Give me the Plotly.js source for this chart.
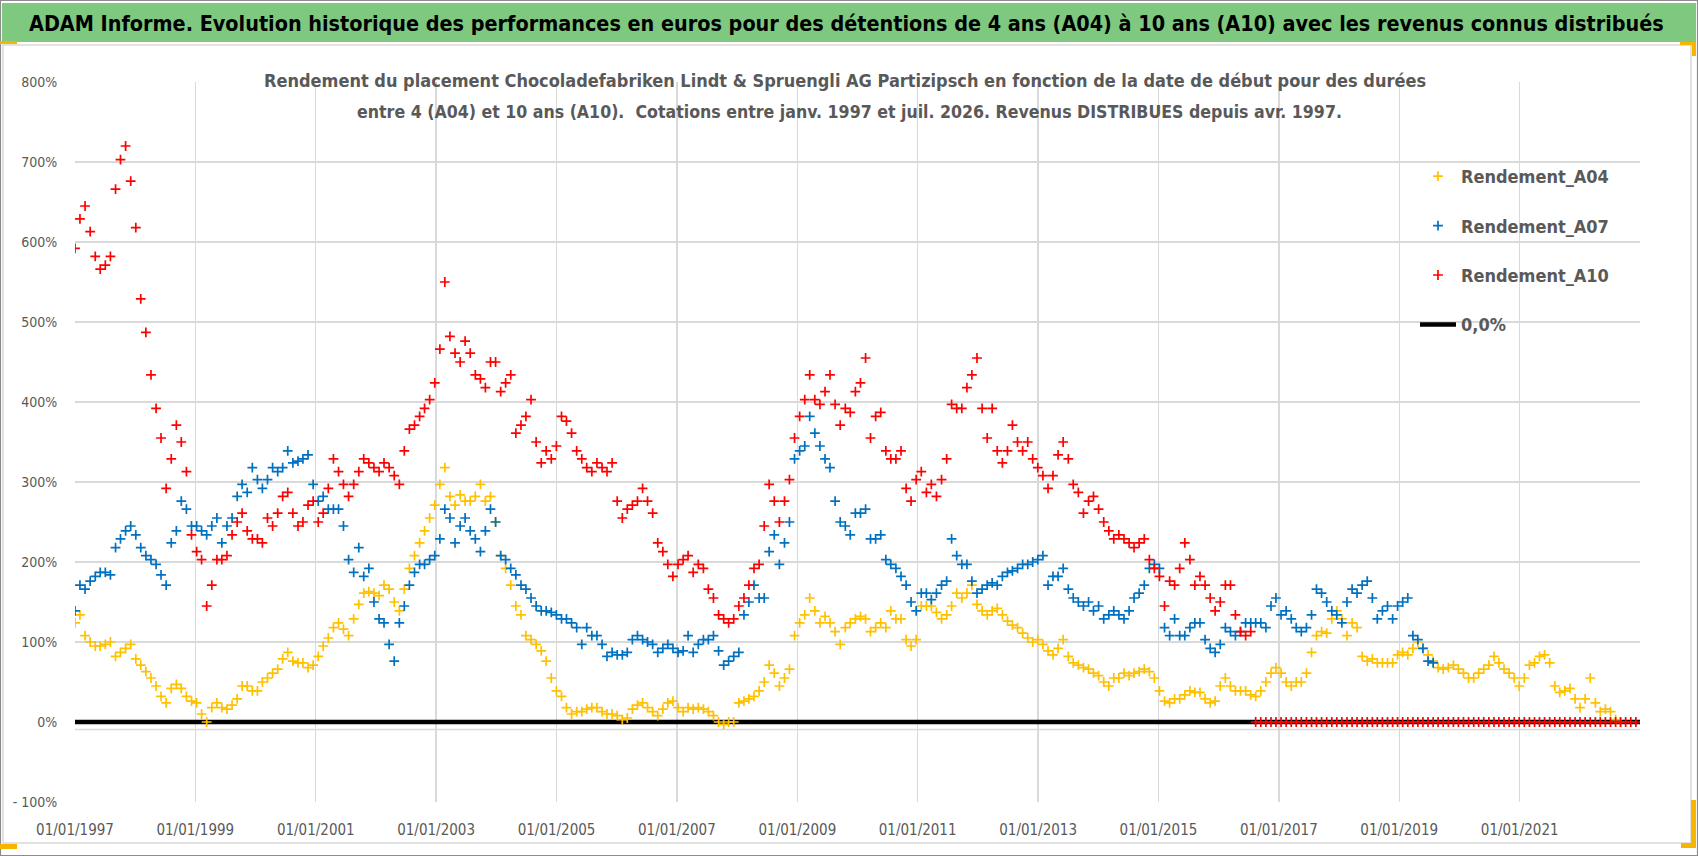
<!DOCTYPE html>
<html>
<head>
<meta charset="utf-8">
<script src="https://cdn.plot.ly/plotly-3.0.1.min.js"></script>
<style>
  html, body { margin: 0; padding: 0; background: #ffffff; }
  #chart { width: 1698px; height: 856px; }
</style>
</head>
<body>
<div id="chart"></div>
<script>

// readings taken about once a month (30.75 days apart), starting 01/01/1997
const startDate = "1997-01-01";
const stepDays = 30.75;

// Rendement_A04 (%)
const a04 = [
    124,134,108,100,95,95,97,100,82,87,
    92,97,79,71,63,55,45,32,24,42,
    47,42,32,26,24,10,0,18,24,18,
    16,21,29,45,45,39,39,50,55,61,
    66,79,87,76,74,74,68,71,82,95,
    105,118,124,116,108,129,147,161,163,161,
    158,171,166,150,139,166,192,208,224,239,
    255,271,297,318,282,271,284,276,276,282,
    297,276,282,250,208,192,171,145,134,108,
    103,97,89,76,55,39,32,18,10,13,
    13,16,18,
    18,13,10,10,8,3,5,16,21,24,
    18,13,8,16,24,26,18,13,18,16,
    18,16,13,8,0,-3,0,0,24,26,
    29,32,39,50,71,61,45,55,66,108,
    124,134,155,139,124,132,124,113,97,118,
    124,129,132,129,113,118,124,118,139,129,
    129,103,95,103,145,145,145,137,129,134,
    145,161,155,161,171,147,139,134,139,142,
    134,126,121,118,111,105,100,103,97,89,
    84,92,103,82,74,71,68,66,61,58,
    50,45,55,
    55,61,58,61,63,66,63,55,39,26,
    24,29,29,34,39,37,37,29,24,26,
    45,55,45,39,39,39,34,32,39,50,
    61,68,61,50,45,50,50,61,87,108,
    113,111,129,139,129,108,124,118,82,76,
    79,74,74,74,74,84,87,84,92,100,
    92,84,76,68,66,68,71,66,61,55,
    55,61,66,71,82,74,66,61,55,45,
    55,71,74,82,84,74,45,37,39,42,
    29,18,29,55,24,13,16,13,3,0
];

// Rendement_A07 (%)
const a07 = [
    139,171,166,176,182,187,187,184,218,229,
    239,245,234,218,208,203,197,184,171,224,
    239,276,266,245,245,239,234,245,255,224,
    245,255,282,297,287,318,303,292,303,318,
    313,318,339,324,326,329,334,297,276,282,
    266,266,266,245,203,187,218,182,192,150,
    129,124,97,76,124,145,171,187,197,197,
    203,208,229,266,255,224,245,255,239,229,
    213,239,266,250,208,203,192,184,171,166,
    155,145,139,139,137,134,129,129,124,118,
    97,118,108,
    108,97,82,87,84,84,87,103,108,103,
    100,97,87,92,97,92,87,89,108,87,
    97,103,103,108,89,71,76,82,87,134,
    150,171,155,155,213,234,197,224,250,329,
    339,345,382,361,345,329,318,276,250,245,
    234,261,261,266,229,229,234,203,197,192,
    182,171,150,139,161,161,153,161,171,176,
    229,208,197,197,176,161,166,171,174,171,
    182,187,189,192,197,197,200,203,208,171,
    182,182,192,166,155,150,145,150,139,145,
    129,134,139,
    134,129,139,155,161,171,192,197,192,118,
    108,129,108,108,118,124,124,103,92,87,
    97,118,113,108,113,124,124,124,124,118,
    145,155,134,139,129,118,113,118,134,166,
    161,150,139,134,124,150,166,161,171,176,
    155,129,139,145,129,145,150,155,108,103,
    92,76,74
];

// Rendement_A10 (%), 0 once the 10 years are not yet complete
const a10 = [
    592,629,645,613,582,566,571,582,666,703,
    720,676,618,529,487,434,392,355,292,329,
    371,350,313,234,213,203,145,171,203,203,
    208,234,250,261,239,229,229,224,255,245,
    261,282,287,261,245,250,271,276,250,261,
    292,329,313,297,282,297,313,329,324,318,
    313,324,318,308,297,339,366,371,382,392,
    403,424,466,550,482,461,450,476,461,434,
    429,418,450,450,413,424,434,361,371,382,
    403,350,324,339,329,345,382,376,361,339,
    329,318,313,
    324,318,313,324,276,255,266,271,276,292,
    276,261,224,213,197,182,197,203,208,187,
    197,192,166,155,134,129,124,129,145,155,
    171,192,197,245,297,276,250,276,303,355,
    382,403,434,403,397,413,434,397,371,392,
    387,413,424,455,355,382,387,339,329,329,
    339,292,276,303,313,287,297,282,303,329,
    397,392,392,418,434,455,392,355,392,339,
    324,339,371,350,339,350,329,318,308,292,
    308,334,350,329,297,287,261,276,282,266,
    250,239,229,
    234,229,224,218,224,229,203,192,182,145,
    176,171,192,224,203,171,182,171,155,139,
    150,171,171,134,113,108,113,
    0,0,0,0,0,0,0,0,0,0,
    0,0,0,0,0,0,0,0,0,0,
    0,0,0,0,0,0,0,0,0,0,
    0,0,0,0,0,0,0,0,0,0,
    0,0,0,0,0,0,0,0,0,0,
    0,0,0,0,0,0,0,0,0,0,
    0,0,0,0,0,0,0,0,0,0,
    0,0,0,0,0,0
];

const yTickVals = [-100, 0, 100, 200, 300, 400, 500, 600, 700, 800];
const yTickText = ["- 100%", "0%", "100%", "200%", "300%", "400%", "500%", "600%", "700%", "800%"];

const xTickVals = ["1997-01-01", "1999-01-01", "2001-01-01", "2003-01-01", "2005-01-01", "2007-01-01",
                   "2009-01-01", "2011-01-01", "2013-01-01", "2015-01-01", "2017-01-01", "2019-01-01", "2021-01-01"];
const xTickText = ["01/01/1997", "01/01/1999", "01/01/2001", "01/01/2003", "01/01/2005", "01/01/2007",
                   "01/01/2009", "01/01/2011", "01/01/2013", "01/01/2015", "01/01/2017", "01/01/2019", "01/01/2021"];
const xRange = ["1997-01-01", "2023-01-01"];

const bannerText = "ADAM Informe. Evolution historique des performances en euros pour des détentions de 4 ans (A04) à 10 ans (A10) avec les revenus connus distribués";
const titleLine1 = "Rendement du placement Chocoladefabriken Lindt &amp; Spruengli AG Partizipsch en fonction de la date de début pour des durées";
const titleLine2 = "entre 4 (A04) et 10 ans (A10).  Cotations entre janv. 1997 et juil. 2026. Revenus DISTRIBUES depuis avr. 1997.";


function datesFor(values) {
    const t0 = Date.parse(startDate);
    return values.map((v, i) =>
        new Date(t0 + i * stepDays * 86400000).toISOString().slice(0, 10)
    );
}

const FONT = "'DejaVu Sans Condensed', sans-serif";
const GREY = "#595959";
const GRID = "#d9d9d9";

// plot area in pixels, used to place the decorations around it
const L = 75, R = 1640, T = 82, B = 802;
const px = x => (x - L) / (R - L);
const py = y => (B - y) / (B - T);

const traces = [];

// 0 % reference line (drawn first so the points sit on it)
traces.push({
    x: xRange,
    y: [0, 0],
    mode: "lines",
    name: "0,0%",
    legendgroup: "z",
    legendrank: 4,
    line: { color: "black", width: 4.5 },
    hoverinfo: "skip"
});

function pointTrace(values, name, color, rank) {
    return {
        x: datesFor(values),
        y: values,
        mode: "markers",
        name: name,
        legendgroup: name,
        legendrank: rank,
        marker: {
            symbol: "cross-thin",
            size: 7,
            line: { color: color, width: 1.7 }
        }
    };
}

traces.push(pointTrace(a04, "Rendement_A04", "#ffc000", 1));
traces.push(pointTrace(a07, "Rendement_A07", "#0070c0", 2));
traces.push(pointTrace(a10, "Rendement_A10", "#ff0000", 3));

const orange = "#f7b500";

const layout = {
    width: 1698,
    height: 856,
    margin: { l: L, r: 1698 - R, t: T, b: 856 - B },
    paper_bgcolor: "white",
    plot_bgcolor: "white",
    font: { family: FONT, color: GREY },
    showlegend: true,
    legend: {
        x: px(1415),
        xanchor: "left",
        y: py(158),
        yanchor: "top",
        bgcolor: "rgba(0,0,0,0)",
        font: { family: FONT, size: 18, color: GREY, weight: 700 },
        tracegroupgap: 23,
        traceorder: "grouped",
        itemwidth: 36
    },
    xaxis: {
        type: "date",
        range: xRange,
        tickvals: xTickVals,
        ticktext: xTickText,
        tickfont: { family: FONT, size: 15, color: GREY },
        ticks: "outside",
        ticklen: 14,
        tickcolor: "rgba(0,0,0,0)",
        showgrid: true,
        gridcolor: GRID,
        gridwidth: 1.4,
        zeroline: false,
        showline: false
    },
    yaxis: {
        range: [-100, 800],
        tickvals: yTickVals,
        ticktext: yTickText,
        tickfont: { family: FONT, size: 14, color: GREY },
        ticks: "outside",
        ticklen: 14,
        tickcolor: "rgba(0,0,0,0)",
        showgrid: true,
        gridcolor: GRID,
        gridwidth: 1.4,
        zeroline: false,
        showline: false
    },
    shapes: [
        // outer frame
        { type: "rect", xref: "paper", yref: "paper", x0: px(0.5), x1: px(1697.5), y0: py(0.5), y1: py(855.5),
          line: { color: "#8c8c8c", width: 1.2 }, fillcolor: "rgba(0,0,0,0)", layer: "above" },
        // green banner
        { type: "rect", xref: "paper", yref: "paper", x0: px(2), x1: px(1696), y0: py(3), y1: py(42),
          line: { width: 0 }, fillcolor: "#7ec97f", layer: "below" },
        // chart frame
        { type: "rect", xref: "paper", yref: "paper", x0: px(3), x1: px(1691), y0: py(45), y1: py(843),
          line: { color: GRID, width: 1.5 }, fillcolor: "rgba(0,0,0,0)", layer: "below" },
        // white box behind the chart title
        { type: "rect", xref: "paper", yref: "paper", x0: px(267), x1: px(1422), y0: py(62), y1: py(130),
          line: { width: 0 }, fillcolor: "white", layer: "between" },
        // white box behind the legend
        { type: "rect", xref: "paper", yref: "paper", x0: px(1385), x1: px(1640), y0: py(147), y1: py(345),
          line: { width: 0 }, fillcolor: "white", layer: "between" },
        // horizontal axis line just under 0 %
        { type: "line", xref: "x", yref: "y", x0: xRange[0], x1: xRange[1], y0: -9.5, y1: -9.5,
          line: { color: GRID, width: 1.5 }, layer: "below" },
        // selection handles
        { type: "rect", xref: "paper", yref: "paper", x0: px(0), x1: px(17), y0: py(41), y1: py(44),
          line: { width: 0 }, fillcolor: orange, layer: "above" },
        { type: "rect", xref: "paper", yref: "paper", x0: px(1680), x1: px(1696), y0: py(42), y1: py(45),
          line: { width: 0 }, fillcolor: orange, layer: "above" },
        { type: "rect", xref: "paper", yref: "paper", x0: px(1692), x1: px(1696), y0: py(42), y1: py(56),
          line: { width: 0 }, fillcolor: orange, layer: "above" },
        { type: "rect", xref: "paper", yref: "paper", x0: px(0), x1: px(17), y0: py(844), y1: py(849),
          line: { width: 0 }, fillcolor: orange, layer: "above" },
        { type: "rect", xref: "paper", yref: "paper", x0: px(1681), x1: px(1696), y0: py(843), y1: py(848),
          line: { width: 0 }, fillcolor: orange, layer: "above" },
        { type: "rect", xref: "paper", yref: "paper", x0: px(1691), x1: px(1696), y0: py(800), y1: py(848),
          line: { width: 0 }, fillcolor: orange, layer: "above" }
    ],
    annotations: [
        { text: bannerText, xref: "paper", yref: "paper", x: px(27), y: py(23),
          xanchor: "left", yanchor: "middle", showarrow: false,
          font: { family: FONT, size: 21.4, color: "black", weight: 700 } },
        { text: titleLine1, xref: "paper", yref: "paper", x: px(845), y: py(80),
          xanchor: "center", yanchor: "middle", showarrow: false,
          font: { family: FONT, size: 18, color: GREY, weight: 700 } },
        { text: titleLine2, xref: "paper", yref: "paper", x: px(849), y: py(112),
          xanchor: "center", yanchor: "middle", showarrow: false,
          font: { family: FONT, size: 17.6, color: GREY, weight: 700 } }
    ]
};

Plotly.newPlot("chart", traces, layout, { displayModeBar: false, staticPlot: true });

</script>
</body>
</html>
